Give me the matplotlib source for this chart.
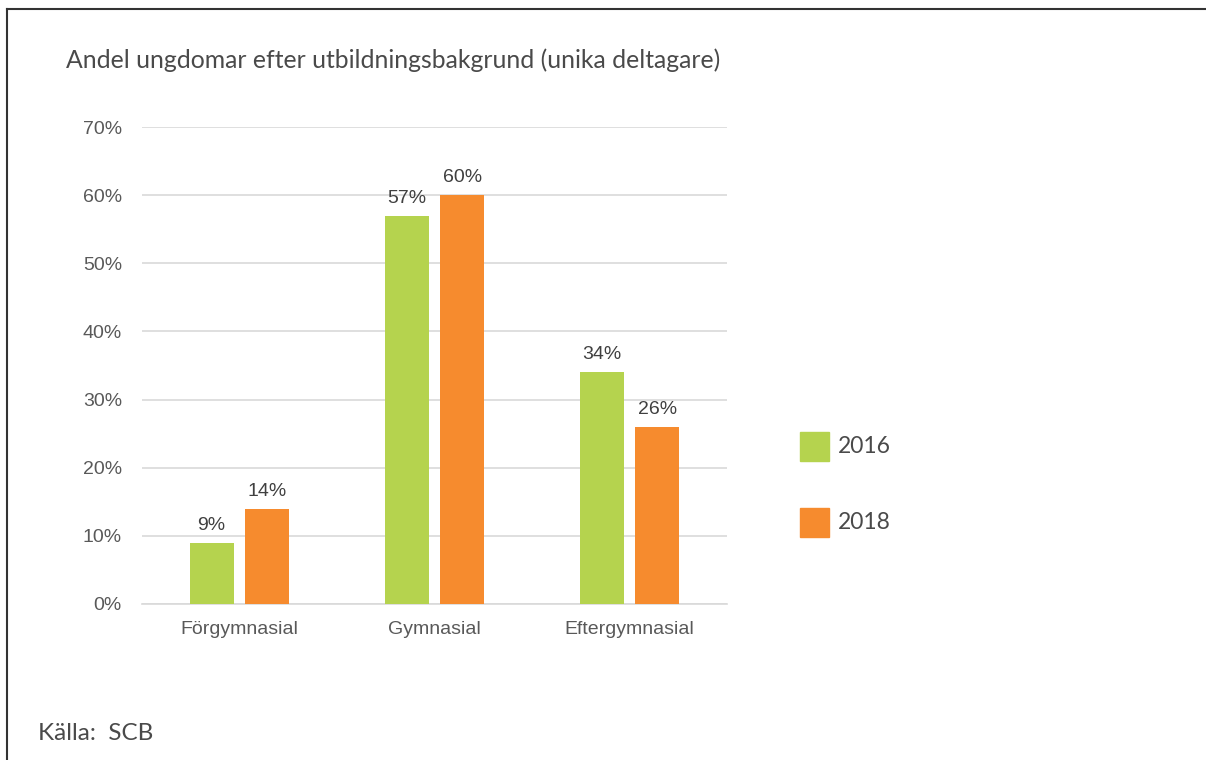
import matplotlib
matplotlib.use("Agg")
import matplotlib.pyplot as plt
from matplotlib.patches import Rectangle
from matplotlib.lines import Line2D
import numpy as np

categories = ["Förgymnasial", "Gymnasial", "Eftergymnasial"]
series_names = ["2016", "2018"]
values_2016 = [9, 57, 34]
values_2018 = [14, 60, 26]
yticks = [0, 10, 20, 30, 40, 50, 60, 70]
title = "Andel ungdomar efter utbildningsbakgrund (unika deltagare)"
source = "Källa:  SCB"

GREEN = "#B5D34E"
ORANGE = "#F68B2E"
TXT = "#404040"
LTXT = "#4a4a4a"
AX_TXT = "#595959"
SANS = "Liberation Sans"
LIGHT = "Lato"

W, H = 1206, 760
fig = plt.figure(figsize=(W / 100, H / 100), dpi=100)

def fx(px):
    return px / W

def fy(py):
    return 1 - py / H

ax = fig.add_axes([fx(142), fy(604), fx(727) - fx(142), fy(127) - fy(604)])

x = np.arange(len(categories))
bw = 0.225
off = 0.143
ax.bar(x - off, values_2016, width=bw, color=GREEN, zorder=3)
ax.bar(x + off, values_2018, width=bw, color=ORANGE, zorder=3)
for xi, v in zip(x - off, values_2016):
    ax.text(xi, v + 1.3, f"{v}%", ha="center", va="bottom", fontsize=14,
            family=SANS, color=TXT, zorder=4)
for xi, v in zip(x + off, values_2018):
    ax.text(xi, v + 1.3, f"{v}%", ha="center", va="bottom", fontsize=14,
            family=SANS, color=TXT, zorder=4)

ax.set_xlim(-0.5, 2.5)
ax.set_ylim(0, 70)
ax.set_yticks(yticks)
ax.set_yticklabels([f"{t}%" for t in yticks], family=SANS,
                   fontsize=14, color=AX_TXT)
ax.set_xticks(x)
ax.set_xticklabels(categories, family=SANS, fontsize=14, color=AX_TXT)
ax.tick_params(axis="both", length=0)
ax.tick_params(axis="y", pad=14.5)
ax.tick_params(axis="x", pad=12)
ax.grid(axis="y", color="#D9D9D9", linewidth=1.2, zorder=0)
for s in ["top", "right", "left"]:
    ax.spines[s].set_visible(False)
ax.spines["bottom"].set_color("#D9D9D9")
ax.spines["bottom"].set_linewidth(1.2)
ax.set_facecolor("none")

# title and source
fig.text(fx(66), fy(60), title, ha="left", va="center", fontsize=17.8,
         family=LIGHT, color=LTXT)
fig.text(fx(38), fy(733), source, ha="left", va="center", fontsize=17.5,
         family=LIGHT, color=LTXT)

# legend
for i, (name, col) in enumerate(zip(series_names, [GREEN, ORANGE])):
    top = 432 + i * 76
    fig.patches.append(Rectangle((fx(800), fy(top + 29)), fx(29), fy(top) - fy(top + 29),
                                 transform=fig.transFigure, color=col))
    fig.text(fx(838), fy(top + 14.5), name, ha="left", va="center", fontsize=16.5,
             family=LIGHT, color=LTXT)

# frame
fig.add_artist(Line2D([fx(7), fx(7)], [fy(9), 0], transform=fig.transFigure,
                      color="#333333", linewidth=1.5))
fig.add_artist(Line2D([fx(7), 1], [fy(9), fy(9)], transform=fig.transFigure,
                      color="#333333", linewidth=1.5))

fig.savefig("out.png", dpi=100, facecolor="white")
